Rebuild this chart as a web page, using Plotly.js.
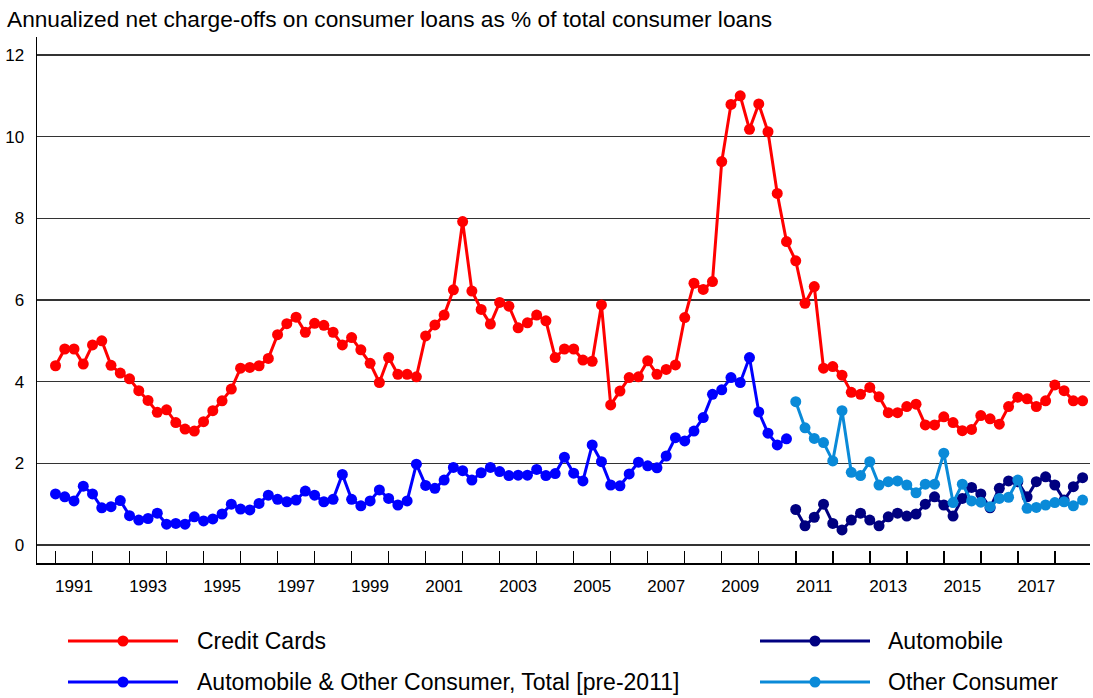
<!DOCTYPE html>
<html><head><meta charset="utf-8">
<script src="https://cdn.plot.ly/plotly-3.0.1.min.js"></script>
<style>html,body{margin:0;padding:0;background:#fff}#chart{width:1093px;height:698px}</style>
</head><body><div id="chart"></div>
<script>
// Quarterly series, first value = Q1 of the start year
const creditCardsStart = 1991;
const creditCards = [
  4.39, 4.80, 4.80, 4.43,  4.90, 5.00, 4.40, 4.21,  4.07, 3.78, 3.54, 3.25,
  3.31, 3.00, 2.84, 2.79,  3.02, 3.29, 3.53, 3.82,  4.33, 4.35, 4.39, 4.57,
  5.15, 5.42, 5.58, 5.21,  5.43, 5.38, 5.21, 4.90,  5.08, 4.78, 4.45, 3.98,
  4.59, 4.18, 4.18, 4.12,  5.12, 5.39, 5.63, 6.25,  7.92, 6.22, 5.77, 5.41,
  5.94, 5.85, 5.32, 5.44,  5.63, 5.49, 4.59, 4.80,  4.80, 4.53, 4.50, 5.88,
  3.43, 3.77, 4.10, 4.12,  4.51, 4.18, 4.30, 4.41,  5.57, 6.41, 6.26, 6.45,
  9.39, 10.79, 11.00, 10.18, 10.80, 10.12, 8.61, 7.43, 6.96, 5.92, 6.33, 4.33,
  4.37, 4.16, 3.74, 3.69,  3.86, 3.63, 3.24, 3.24,  3.39, 3.45, 2.94, 2.94,
  3.14, 3.00, 2.80, 2.83,  3.17, 3.09, 2.96, 3.39,  3.62, 3.58, 3.39, 3.53,
  3.92, 3.78, 3.53, 3.53
];
const autoOtherTotalStart = 1991;
const autoOtherTotal = [
  1.25, 1.18, 1.08, 1.44,  1.25, 0.91, 0.94, 1.09,  0.72, 0.61, 0.65, 0.78,
  0.51, 0.53, 0.51, 0.69,  0.59, 0.64, 0.76, 1.00,  0.88, 0.86, 1.02, 1.22,
  1.12, 1.06, 1.10, 1.32,  1.22, 1.06, 1.12, 1.73,  1.12, 0.96, 1.08, 1.35,
  1.14, 0.98, 1.08, 1.98,  1.46, 1.39, 1.59, 1.90,  1.82, 1.59, 1.77, 1.90,
  1.80, 1.70, 1.71, 1.71,  1.85, 1.70, 1.75, 2.15,  1.76, 1.57, 2.45, 2.04,
  1.47, 1.45, 1.74, 2.03,  1.94, 1.89, 2.18, 2.63,  2.55, 2.79, 3.12, 3.69,
  3.80, 4.10, 3.98, 4.59,  3.26, 2.74, 2.45, 2.60
];
const automobileStart = 2011;
const automobile = [
  0.87, 0.47, 0.68, 1.00,  0.53, 0.37, 0.61, 0.78,  0.61, 0.47, 0.69, 0.78,
  0.71, 0.76, 1.00, 1.18,  0.98, 0.71, 1.14, 1.41,  1.25, 0.91, 1.39, 1.57,
  1.55, 1.18, 1.55, 1.67,  1.47, 1.10, 1.43, 1.65
];
const otherConsumerStart = 2011;
const otherConsumer = [
  3.51, 2.87, 2.61, 2.51,  2.06, 3.29, 1.78, 1.70,  2.04, 1.47, 1.55, 1.57,
  1.47, 1.28, 1.49, 1.49,  2.25, 1.04, 1.49, 1.08,  1.05, 0.94, 1.14, 1.17,
  1.59, 0.90, 0.92, 0.98,  1.04, 1.06, 0.96, 1.10
];

const seriesNames = ['Credit Cards', 'Automobile & Other Consumer, Total [pre-2011]', 'Automobile', 'Other Consumer'];
const seriesColors = ['#ff0000', '#0000ff', '#000080', '#0a8ad8'];
const yTicks = [0, 2, 4, 6, 8, 10, 12];
const yearTicks = [1991,1992,1993,1994,1995,1996,1997,1998,1999,2000,2001,2002,2003,2004,2005,2006,2007,2008,2009,2010,2011,2012,2013,2014,2015,2016,2017,2018];
const yearLabels = ['1991','1993','1995','1997','1999','2001','2003','2005','2007','2009','2011','2013','2015','2017'];

function quarterX(start, n) {
  const xs = [];
  for (let i = 0; i < n; i++) xs.push(start + Math.floor(i / 4) + (i % 4) / 4);
  return xs;
}

const W = 1093, H = 698;
const M = {l: 37, r: 3, t: 37, b: 135};
const PW = W - M.l - M.r, PH = H - M.t - M.b;
const px = v => (v - M.l) / PW;
const py = v => (H - M.b - v) / PH;

function mk(start, vals, idx) {
  return {
    x: quarterX(start, vals.length), y: vals, type: 'scatter', mode: 'lines+markers',
    name: seriesNames[idx], showlegend: false, hoverinfo: 'x+y',
    line: {color: seriesColors[idx], width: 3},
    marker: {color: seriesColors[idx], size: 11}
  };
}

const traces = [
  mk(creditCardsStart, creditCards, 0),
  mk(automobileStart, automobile, 2),
  mk(autoOtherTotalStart, autoOtherTotal, 1),
  mk(otherConsumerStart, otherConsumer, 3),
  {x: [null], y: [null], xaxis: 'x2', yaxis: 'y', type: 'scatter', mode: 'markers', showlegend: false, hoverinfo: 'skip'}
];

const xRange = [1990.5, 2018.95];

// manual legend: two columns, two rows
const legendItems = [
  {idx: 0, lx0: 68, lx1: 178, tx: 197, y: 641},
  {idx: 1, lx0: 68, lx1: 178, tx: 197, y: 682},
  {idx: 2, lx0: 760, lx1: 870, tx: 888, y: 641},
  {idx: 3, lx0: 760, lx1: 870, tx: 888, y: 682}
];
const shapes = [], annotations = [];
legendItems.forEach(it => {
  const c = seriesColors[it.idx];
  shapes.push({type: 'line', xref: 'paper', yref: 'paper', x0: px(it.lx0), x1: px(it.lx1), y0: py(it.y), y1: py(it.y), line: {color: c, width: 3}});
  const cx = px((it.lx0 + it.lx1) / 2), cy = py(it.y);
  shapes.push({type: 'circle', xref: 'paper', yref: 'paper', xsizemode: 'pixel', ysizemode: 'pixel', xanchor: cx, yanchor: cy, x0: -5.5, x1: 5.5, y0: -5.5, y1: 5.5, fillcolor: c, line: {color: c, width: 0}});
  annotations.push({xref: 'paper', yref: 'paper', x: px(it.tx - 2), y: py(it.y), xanchor: 'left', yanchor: 'middle', text: seriesNames[it.idx], showarrow: false, font: {size: 23, color: '#000'}});
});

const layout = {
  width: W, height: H,
  margin: M,
  paper_bgcolor: '#fff', plot_bgcolor: '#fff',
  font: {family: 'Liberation Sans, Arial, sans-serif', color: '#000'},
  title: {text: 'Annualized net charge-offs on consumer loans as % of total consumer loans', xref: 'container', yref: 'container', x: 7 / W, xanchor: 'left', y: 1 - 19 / H, yanchor: 'middle', font: {size: 22.7, color: '#000'}},
  showlegend: false,
  xaxis: {
    range: xRange, tickmode: 'array', tickvals: yearTicks, showticklabels: false,
    ticks: 'inside', ticklen: 12, tickwidth: 1.5, tickcolor: '#000',
    showline: true, linecolor: '#000', linewidth: 1.5, showgrid: false, zeroline: false, fixedrange: true
  },
  xaxis2: {
    overlaying: 'x', anchor: 'y', side: 'bottom', range: xRange,
    tickmode: 'array', tickvals: yearLabels.map(s => Number(s) + 0.5), ticktext: yearLabels,
    ticks: '', showline: false, showgrid: false, zeroline: false, tickfont: {size: 17, color: '#000'},
    ticklabelstandoff: 11, fixedrange: true
  },
  yaxis: {
    range: [-0.44, 12.44], tickmode: 'array', tickvals: yTicks, ticks: '',
    showgrid: true, gridcolor: '#333', gridwidth: 1.6,
    showline: true, linecolor: '#000', linewidth: 1.5, zeroline: false,
    tickfont: {size: 17, color: '#000'}, ticklabelstandoff: 8, fixedrange: true
  },
  shapes: shapes,
  annotations: annotations
};

Plotly.newPlot('chart', traces, layout, {displayModeBar: false, staticPlot: true});
</script>
</body></html>
